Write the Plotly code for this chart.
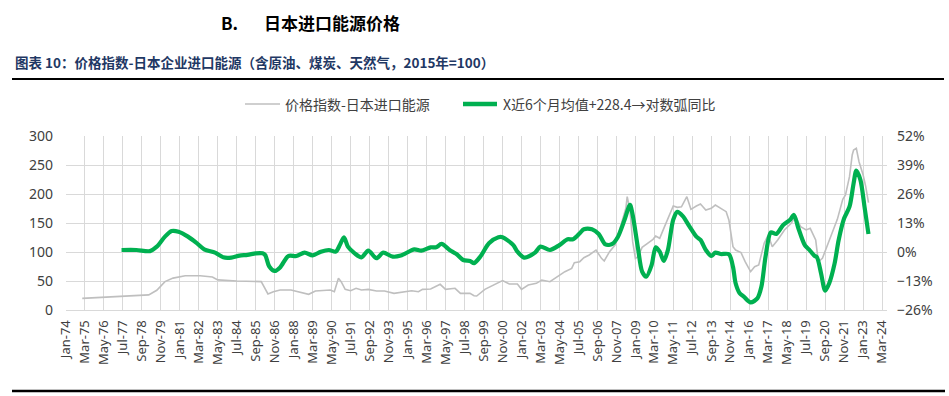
import plotly.graph_objects as go
from datetime import datetime

# ---------------- data ----------------
TICK_LABELS = ["Jan-74", "Mar-75", "May-76", "Jul-77", "Sep-78", "Nov-79", "Jan-81", "Mar-82",
               "May-83", "Jul-84", "Sep-85", "Nov-86", "Jan-88", "Mar-89", "May-90", "Jul-91",
               "Sep-92", "Nov-93", "Jan-95", "Mar-96", "May-97", "Jul-98", "Sep-99", "Nov-00",
               "Jan-02", "Mar-03", "May-04", "Jul-05", "Sep-06", "Nov-07", "Jan-09", "Mar-10",
               "May-11", "Jul-12", "Sep-13", "Nov-14", "Jan-16", "Mar-17", "May-18", "Jul-19",
               "Sep-20", "Nov-21", "Jan-23", "Mar-24"]

PRICE_DATES = ["1975-01", "1976-06", "1979-02", "1979-08", "1980-02", "1980-08", "1981-05", "1982-04",
               "1983-01", "1983-05", "1984-07", "1986-01", "1986-04", "1986-06", "1986-10", "1987-03",
               "1987-11", "1988-05", "1988-12", "1989-05", "1989-12", "1990-04", "1990-07", "1990-10",
               "1990-12", "1991-03", "1991-07", "1991-11", "1992-03", "1992-08", "1993-02", "1993-08",
               "1994-03", "1994-08", "1995-04", "1995-09", "1995-12", "1996-06", "1997-01", "1997-05",
               "1997-12", "1998-04", "1998-11", "1999-02", "1999-04", "1999-10", "2000-04", "2000-11",
               "2001-04", "2001-10", "2002-01", "2002-06", "2002-12", "2003-04", "2003-10", "2004-04",
               "2004-09", "2005-02", "2005-04", "2005-08", "2005-11", "2006-03", "2006-08", "2006-12",
               "2007-02", "2007-06", "2007-10", "2008-02", "2008-06", "2008-07", "2008-09", "2008-11",
               "2009-01", "2009-03", "2009-06", "2009-10", "2010-02", "2010-04", "2010-07", "2010-10",
               "2011-02", "2011-05", "2011-08", "2011-11", "2012-03", "2012-06", "2012-10", "2013-01",
               "2013-05", "2013-09", "2013-12", "2014-04", "2014-08", "2014-10", "2015-01", "2015-03",
               "2015-07", "2015-10", "2016-02", "2016-05", "2016-08", "2016-12", "2017-03", "2017-06",
               "2017-10", "2018-03", "2018-08", "2018-11", "2019-03", "2019-07", "2019-10", "2020-02",
               "2020-04", "2020-07", "2020-11", "2021-02", "2021-06", "2021-10", "2021-12", "2022-03",
               "2022-05", "2022-06", "2022-08", "2022-10", "2023-01", "2023-03", "2023-05"]
PRICE_VALUES = [20, 22, 26, 34, 49, 55, 59, 59,
                57, 52, 50, 49, 35, 27.6, 31.6, 34.5,
                34.5, 31.6, 27, 32.8, 33.3, 34.5, 31.6, 54.6,
                48.8, 35.6, 33.3, 37.4, 34.5, 35.6, 32.8, 32.8,
                28.7, 30.5, 33.3, 31.6, 35.6, 36.2, 44.3, 35.6,
                37.4, 28.7, 28.7, 24.7, 24.1, 35.6, 43.1, 50.6,
                44.8, 44.8, 35.6, 43.1, 46, 51.7, 48.8, 57.5,
                66.1, 71.8, 81.6, 83.3, 90.2, 94.8, 103.4, 89.1,
                84.5, 100.6, 112, 143.7, 175.3, 195.4, 172.4, 117.8,
                89.1, 92, 108, 115, 121.8, 127.6, 123.6, 140.8,
                163.8, 179.3, 177, 178, 195.4, 173.6, 179.3, 182.8,
                172.4, 175.3, 181, 175.3, 169.5, 155.2, 109.2, 103.4,
                98.9, 83.3, 66.1, 74.7, 77.6, 115, 129.3, 109.2,
                120.7, 138, 149.4, 161, 143.7, 138, 140.8, 120.7,
                83.3, 89.1, 112, 132.2, 156.3, 190.8, 198.3, 229.9,
                267.2, 275.9, 278.7, 255.7, 232.8, 212.6, 185]

YOY_DATES = ["1977-06", "1978-05", "1979-03", "1979-08", "1980-02", "1980-07", "1980-12", "1981-07",
             "1982-01", "1982-07", "1983-03", "1983-09", "1984-03", "1984-09", "1985-03", "1985-09",
             "1986-02", "1986-04", "1986-07", "1986-11", "1987-03", "1987-09", "1988-03", "1988-09",
             "1989-03", "1989-09", "1990-03", "1990-08", "1990-11", "1991-02", "1991-05", "1991-10",
             "1992-03", "1992-08", "1993-02", "1993-07", "1994-02", "1994-08", "1995-06", "1995-11",
             "1996-06", "1996-10", "1997-02", "1997-08", "1998-01", "1998-06", "1998-11", "1999-02",
             "1999-07", "2000-01", "2000-08", "2000-11", "2001-07", "2001-10", "2002-03", "2002-11",
             "2003-03", "2003-10", "2004-05", "2004-11", "2005-03", "2005-08", "2005-11", "2006-05",
             "2006-10", "2007-03", "2007-08", "2007-12", "2008-05", "2008-09", "2008-11", "2009-03",
             "2009-06", "2009-09", "2010-01", "2010-04", "2010-07", "2010-10", "2011-01", "2011-05",
             "2011-08", "2011-12", "2012-05", "2012-10", "2013-01", "2013-05", "2013-09", "2013-12",
             "2014-04", "2014-10", "2015-01", "2015-03", "2015-06", "2015-09", "2016-02", "2016-07",
             "2016-10", "2017-01", "2017-05", "2017-09", "2018-02", "2018-07", "2018-10", "2019-01",
             "2019-06", "2019-09", "2020-01", "2020-03", "2020-06", "2020-09", "2020-12", "2021-04",
             "2021-07", "2021-11", "2022-03", "2022-06", "2022-08", "2022-11", "2023-02", "2023-05"]
YOY_VALUES = [0.9, 0.9, 0.4, 2.4, 6.9, 9.4, 9.1, 6.9,
              4.2, 1.2, -0.3, -2.4, -2.5, -1.6, -1.3, -0.6,
              -0.6, -1.4, -6.5, -8.5, -6.9, -1.8, -1.8, -0.3,
              -1.5, 0.15, 0.9, 0.15, 3.1, 6.6, 2.4, -0.6,
              -2.4, 0.6, -2.8, -0.3, -2.1, -1.6, 1.2, 0.6,
              2.1, 2.1, 3.6, 0.9, -0.9, -3.6, -4.0, -5.0,
              -1.8, 3.9, 6.6, 6.6, 3.1, 0.15, -2.5, -0.3,
              2.4, 0.9, 3.1, 5.7, 5.7, 8.4, 10.2, 10.2,
              8.1, 3.4, 3.6, 6.6, 14.3, 21.1, 16.6, 1.6,
              -8.8, -11.1, -5.8, 2.1, 0.15, -4.0, 0.9, 14.5,
              18.0, 16.1, 11.4, 6.9, 5.4, 0.9, -1.8, -0.3,
              -0.9, -1.0, -6.6, -14.0, -18.5, -20.0, -22.6, -20.8,
              -15.5, -2.1, 8.8, 8.1, 12.1, 14.3, 16.6, 11.1,
              3.1, 1.2, -1.6, -2.4, -9.6, -17.3, -14.0, -5.1,
              5.4, 15.1, 20.3, 30.8, 36.5, 32.3, 20.3, 8.1]

PRICE_NAME = "价格指数-日本进口能源"
YOY_NAME = "X近6个月均值+228.4→对数弧同比"
GRAY = "#BFBFBF"
GREEN = "#00B050"

# ---------------- figure ----------------
TICK_DATES = [datetime.strptime(t, "%b-%y") for t in TICK_LABELS]
FONT = "Noto Sans, Noto Sans CJK SC, sans-serif"
CJK = "Noto Sans CJK SC, Noto Sans, sans-serif"

fig = go.Figure()
fig.add_trace(go.Scatter(
    x=PRICE_DATES, y=PRICE_VALUES, name=PRICE_NAME, showlegend=False,
    mode="lines", line=dict(color=GRAY, width=1.6), yaxis="y"))
fig.add_trace(go.Scatter(
    x=YOY_DATES, y=YOY_VALUES, name=YOY_NAME, showlegend=False,
    mode="lines", line=dict(color=GREEN, width=4.2, shape="spline", smoothing=0.8),
    yaxis="y2"))

L, R, T, B = 66, 62, 136, 86
PW, PH = 949 - L - R, 396 - T - B


def px_x(x):
    return (x - L) / PW


def px_y(y):
    return (396 - B - y) / PH


def ann(text, x, y, size, color, family=CJK, anchor="left"):
    return dict(text=text, xref="paper", yref="paper", x=px_x(x), y=px_y(y),
                xanchor=anchor, yanchor="middle", showarrow=False,
                font=dict(family=family, size=size, color=color))


def hline(x0, x1, y, color, width):
    return dict(type="line", xref="paper", yref="paper", x0=px_x(x0), x1=px_x(x1),
                y0=px_y(y), y1=px_y(y), line=dict(color=color, width=width))


fig.update_layout(
    width=949, height=396,
    margin=dict(l=L, r=R, t=T, b=B, autoexpand=False),
    paper_bgcolor="white", plot_bgcolor="white",
    font=dict(family=FONT, color="#404040", size=13),
    showlegend=False,
    xaxis=dict(type="date", range=["1974-01-01", "2024-06-20"],
               tickmode="array", tickvals=TICK_DATES, ticktext=TICK_LABELS,
               tickangle=-90, tickfont=dict(size=13, color="#404040"),
               showgrid=True, gridcolor="#D9D9D9", gridwidth=1,
               showline=True, linecolor="#D9D9D9", linewidth=1,
               ticks="", zeroline=False, ticklabelstandoff=4),
    yaxis=dict(range=[0, 300], dtick=50, tick0=0, showgrid=True, gridcolor="#D9D9D9",
               gridwidth=1, zeroline=False, showline=False, ticks="",
               tickfont=dict(size=14, color="#404040"), ticklabelstandoff=12),
    yaxis2=dict(range=[-26, 52], dtick=13, tick0=-26, overlaying="y", side="right",
                showgrid=False, zeroline=False, showline=False, ticks="", ticksuffix="%",
                tickfont=dict(size=14, color="#404040"), ticklabelstandoff=9),
    annotations=[
        ann("<b>B.</b>", 219, 22, 17, "#000000"),
        ann("<b>日本进口能源价格</b>", 262, 22, 17, "#000000"),
        ann("<b>图表 10：价格指数-日本企业进口能源（含原油、煤炭、天然气，2015年=100）</b>",
            13, 62, 13.5, "#1F3864"),
        ann(PRICE_NAME, 283, 104, 14, "#404040"),
        ann(YOY_NAME, 501, 104, 14, "#404040"),
    ],
    shapes=[
        hline(12, 944, 79, "#000000", 2),
        hline(12, 945, 391, "#000000", 2.5),
        hline(245, 280, 104, GRAY, 1.6),
        hline(463, 497, 104, GREEN, 4.5),
    ],
)

fig.write_html("out.html", config={"displayModeBar": False},
               post_script="document.body.style.margin='0px';")
